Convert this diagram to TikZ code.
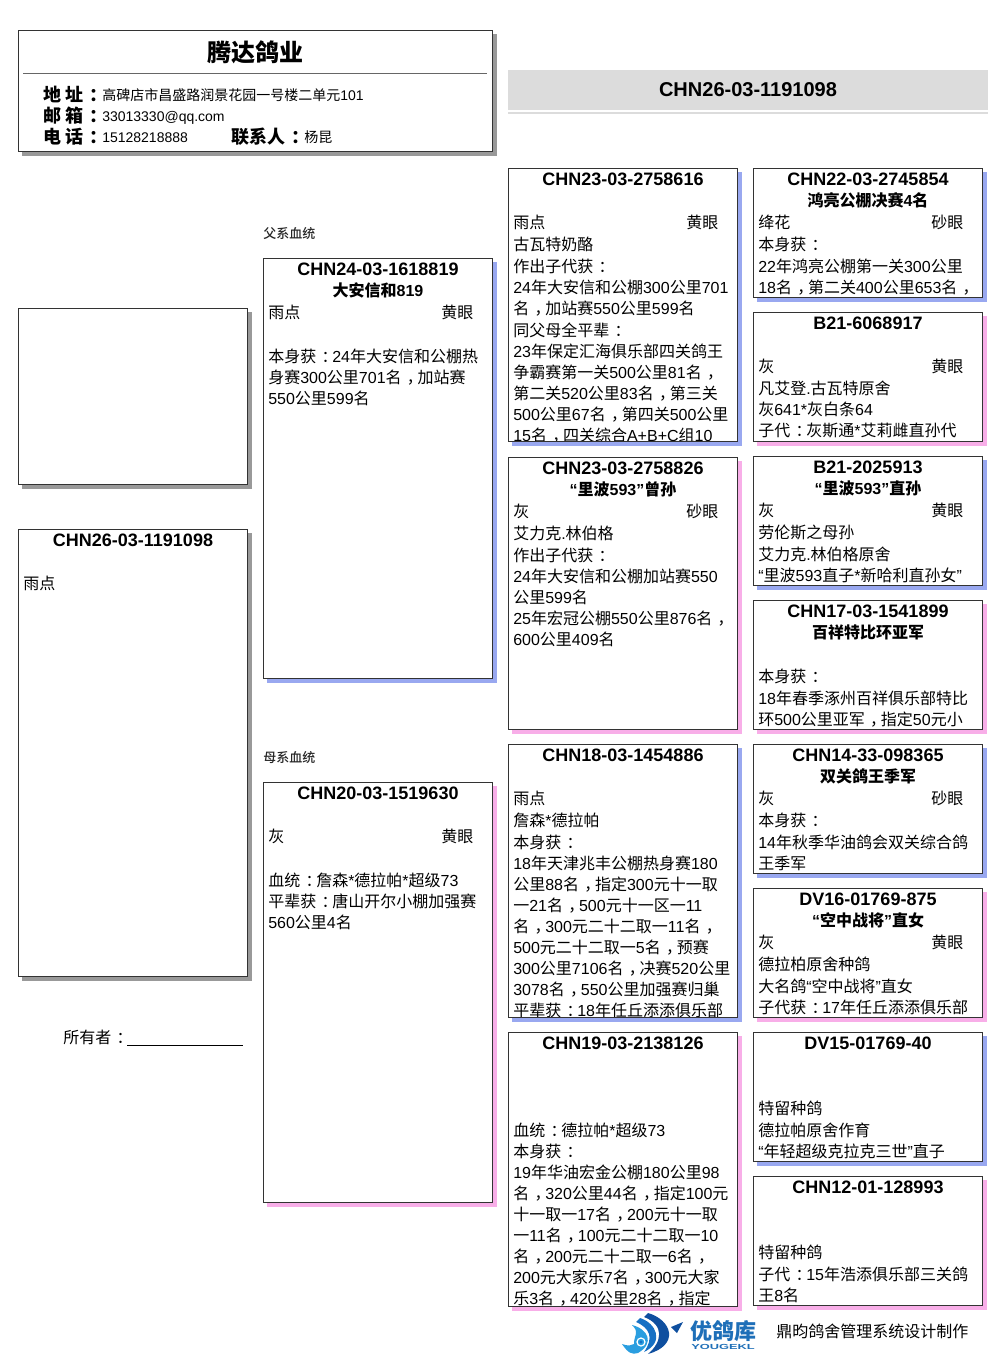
\documentclass[tikz,border=0pt]{standalone}
\usepackage{fontspec}
\setmainfont{Liberation Sans}
\newfontfamily\cjk[BoldFont={Noto Sans CJK SC Medium}]{Noto Sans CJK SC}
\newfontfamily\cjkheavy{Noto Sans CJK SC}
\newfontfamily\ybrand{DejaVu Sans}
\def\cjksel{\cjk}
\XeTeXinterchartokenstate=1
\newXeTeXintercharclass\cjkclass
\newcount\cc
\cc="4E00 \loop \XeTeXcharclass\cc=\cjkclass \advance\cc 1 \ifnum\cc<"A000 \repeat
\cc="3000 \loop \XeTeXcharclass\cc=\cjkclass \advance\cc 1 \ifnum\cc<"3040 \repeat
\cc="FF00 \loop \XeTeXcharclass\cc=\cjkclass \advance\cc 1 \ifnum\cc<"FFF0 \repeat
\XeTeXcharclass"201C=0 \XeTeXcharclass"201D=0 \XeTeXcharclass"2018=0 \XeTeXcharclass"2019=0
\XeTeXinterchartoks 0 \cjkclass={\cjksel}
\XeTeXinterchartoks 4095 \cjkclass={\cjksel}
\XeTeXinterchartoks \cjkclass 0={\rmfamily}
\XeTeXinterchartoks 4095 0={\rmfamily}
\newcommand\midpunct[1]{\cjksel\kern.33em\char"#1\relax\kern-.33em}
\catcode"FF0C=\active \def，{\midpunct{FF0C}}
\catcode"FF1A=\active \def：{\midpunct{FF1A}}
\definecolor{shgray}{HTML}{999999}
\definecolor{shblue}{HTML}{99A8F0}
\definecolor{shpink}{HTML}{F8AEE8}
\definecolor{bandgray}{HTML}{DCDCDC}
\definecolor{edge}{HTML}{333333}
\definecolor{logoA}{HTML}{0F4F9F}
\definecolor{logoB}{HTML}{1670C4}
\definecolor{logoC}{HTML}{2A9EE0}
\definecolor{brandblue}{HTML}{1E6FB8}
\tikzset{
  x=0.75pt,y=-0.75pt,
  paper/.style={draw=edge,fill=white,line width=0.75pt,inner sep=0,outer sep=0,anchor=north west},
  bodytext/.style={font=\fontsize{12}{15.75}\selectfont,align=left,inner sep=0,anchor=north west},
  titletext/.style={font=\fontsize{13.5}{15.75}\selectfont\bfseries,align=center,inner sep=0,anchor=north},
  label/.style={inner sep=0,anchor=base west},
  headkey/.style={label,font=\def\cjksel{\cjkheavy}\fontsize{13.5}{15}\selectfont\bfseries},
  headval/.style={label,font=\fontsize{10.5}{12}\selectfont},
}
\newcommand\QQ{\\[0.75pt]}
\newcommand\Estr{\rule{0pt}{11pt}}
\newcommand\TT[1]{\def\cjksel{\cjkheavy}\fontsize{12}{15.75}\selectfont #1}
% name, x, y, w, h, shadow colour, title, eye, body
\newcommand\pbox[9]{%
  \fill[#6] (#2+4,#3+4) rectangle (#2+#4+5,#3+#5+5);
  \node[paper,minimum width=#4*0.75pt,minimum height=#5*0.75pt] (#1) at (#2+.5,#3+.5) {};
  \begin{scope}
    \clip (#2+.5,#3+.5) rectangle (#2+#4+.5,#3+#5+.5);
    \node[titletext] (#1-title) at (#2+#4/2+.5,#3+2.8) {\Estr#7};
    \node[bodytext] (#1-eye) at (#2+178,#3+45.3) {\Estr#8};
    \node[bodytext] (#1-body) at (#2+5,#3+45.3) {\Estr#9};
  \end{scope}
  \draw[edge,line width=0.75pt] (#2+.5,#3+.5) rectangle (#2+#4+.5,#3+#5+.5);
}
\begin{document}
\begin{tikzpicture}
\useasboundingbox (0,0) rectangle (1006,1366);
\fill[white] (0,0) rectangle (1006,1366);

% shop header
\fill[shgray] (22,34) rectangle (497,156);
\node[paper,minimum width=474*0.75pt,minimum height=121*0.75pt] (shop) at (18.5,30.5) {};
\node[inner sep=0,font=\def\cjksel{\cjkheavy}\fontsize{18}{20}\selectfont\bfseries] (shopname) at (255,52) {腾达鸽业};
\coordinate (ruleL) at (23,74);
\coordinate (ruleR) at (487,74);
\draw[black!60,line width=0.75pt] (ruleL) -- (ruleR);
\node[headkey] (k1) at (43,101.5) {地 址：};
\node[headval] (v1) at (102,101) {高碑店市昌盛路润景花园一号楼二单元101};
\node[headkey] (k2) at (43,122.5) {邮 箱：};
\node[headval] (v2) at (102,122) {33013330@qq.com};
\node[headkey] (k3) at (43,143.5) {电 话：};
\node[headval] (v3) at (102,143) {15128218888};
\node[headkey] (k4) at (231,143.5) {联系人：};
\node[headval] (v4) at (304,143) {杨昆};

% ring band
\fill[bandgray] (508,70) rectangle (988,110);
\fill[bandgray] (508,112) rectangle (988,114);
\node[inner sep=0,font=\fontsize{15}{18}\selectfont\bfseries] (ring) at (748,90) {CHN26-03-1191098};

% section labels
\node[label,font=\fontsize{9.75}{12}\selectfont\bfseries,text=black!85] (sire) at (263,238) {父系血统};
\node[label,font=\fontsize{9.75}{12}\selectfont\bfseries,text=black!85] (dam) at (263,762) {母系血统};

% left column
\fill[shgray] (22,312) rectangle (252,489);
\node[paper,minimum width=229*0.75pt,minimum height=176*0.75pt] (photo) at (18.5,308.5) {};
\pbox{bird}{18}{529}{229}{447}{shgray}{CHN26-03-1191098}{}{雨点}
\node[label,font=\fontsize{12}{15}\selectfont] (owner) at (63,1043) {所有者：};
\coordinate (ownerA) at (127,1045);
\coordinate (ownerB) at (243,1045);
\draw[black,line width=0.75pt] (ownerA) -- (ownerB);

% parents
\pbox{p1}{263}{258}{229}{420}{shblue}{CHN24-03-1618819\\\TT{大安信和819}}{黄眼}{雨点\QQ
\mbox{}\QQ
本身获：24年大安信和公棚热\\
身赛300公里701名，加站赛\\
550公里599名}
\pbox{p2}{263}{782}{229}{420}{shpink}{CHN20-03-1519630}{黄眼}{灰\QQ
\mbox{}\QQ
血统：詹森*德拉帕*超级73\\
平辈获：唐山开尔小棚加强赛\\
560公里4名}

% grandparents
\pbox{g1}{508}{168}{229}{273}{shblue}{CHN23-03-2758616}{黄眼}{雨点\QQ
古瓦特奶酪\QQ
作出子代获：\\
24年大安信和公棚300公里701\\
名，加站赛550公里599名\QQ
同父母全平辈：\\
23年保定汇海俱乐部四关鸽王\\
争霸赛第一关500公里81名，\\
第二关520公里83名，第三关\\
500公里67名，第四关500公里\\
15名，四关综合A+B+C组10}
\pbox{g2}{508}{457}{229}{272}{shpink}{CHN23-03-2758826\\\TT{“里波593”曾孙}}{砂眼}{灰\QQ
艾力克.林伯格\QQ
作出子代获：\\
24年大安信和公棚加站赛550\\
公里599名\\
25年宏冠公棚550公里876名，\\
600公里409名}
\pbox{g3}{508}{744}{229}{273}{shblue}{CHN18-03-1454886}{}{雨点\QQ
詹森*德拉帕\QQ
本身获：\\
18年天津兆丰公棚热身赛180\\
公里88名，指定300元十一取\\
一21名，500元十一区一11\\
名，300元二十二取一11名，\\
500元二十二取一5名，预赛\\
300公里7106名，决赛520公里\\
3078名，550公里加强赛归巢\\
平辈获：18年任丘添添俱乐部}
\pbox{g4}{508}{1032}{229}{274}{shpink}{CHN19-03-2138126}{}{\mbox{}\QQ
\mbox{}\QQ
血统：德拉帕*超级73\\
本身获：\\
19年华油宏金公棚180公里98\\
名，320公里44名，指定100元\\
十一取一17名，200元十一取\\
一11名，100元二十二取一10\\
名，200元二十二取一6名，\\
200元大家乐7名，300元大家\\
乐3名，420公里28名，指定}

% great-grandparents
\pbox{h1}{753}{168}{229}{129}{shblue}{CHN22-03-2745854\\\TT{鸿亮公棚决赛4名}}{砂眼}{绛花\QQ
本身获：\QQ
22年鸿亮公棚第一关300公里\\
18名，第二关400公里653名，}
\pbox{h2}{753}{312}{229}{129}{shpink}{B21-6068917}{黄眼}{灰\QQ
凡艾登.古瓦特原舍\\
灰641*灰白条64\\
子代：灰斯通*艾莉雌直孙代}
\pbox{h3}{753}{456}{229}{129}{shblue}{B21-2025913\\\TT{“里波593”直孙}}{黄眼}{灰\QQ
劳伦斯之母孙\QQ
艾力克.林伯格原舍\\
“里波593直子*新哈利直孙女”}
\pbox{h4}{753}{600}{229}{129}{shpink}{CHN17-03-1541899\\\TT{百祥特比环亚军}}{}{\mbox{}\QQ
本身获：\QQ
18年春季涿州百祥俱乐部特比\\
环500公里亚军，指定50元小}
\pbox{h5}{753}{744}{229}{129}{shblue}{CHN14-33-098365\\\TT{双关鸽王季军}}{砂眼}{灰\QQ
本身获：\QQ
14年秋季华油鸽会双关综合鸽\\
王季军}
\pbox{h6}{753}{888}{229}{129}{shpink}{DV16-01769-875\\\TT{“空中战将”直女}}{黄眼}{灰\QQ
德拉柏原舍种鸽\QQ
大名鸽“空中战将”直女\\
子代获：17年任丘添添俱乐部}
\pbox{h7}{753}{1032}{229}{129}{shblue}{DV15-01769-40}{}{\mbox{}\QQ
特留种鸽\QQ
德拉帕原舍作育\\
“年轻超级克拉克三世”直子}
\pbox{h8}{753}{1176}{229}{129}{shpink}{CHN12-01-128993}{}{\mbox{}\QQ
特留种鸽\QQ
子代：15年浩添俱乐部三关鸽\\
王8名}

% logo
\fill[logoA] (648,1313) .. controls (672,1320) and (680,1345) .. (648,1354) .. controls (662,1342) and (665,1325) .. (644,1317) -- cycle;
\fill[logoB] (640,1318) .. controls (656,1323) and (665,1342) .. (644,1352) .. controls (654,1338) and (650,1328) .. (636,1322) -- cycle;
\fill[logoC] (632,1325) .. controls (648,1329) and (655,1343) .. (638,1353) .. controls (632,1355) and (628,1353) .. (622,1344) .. controls (628,1346) and (631,1346) .. (634,1344) .. controls (634,1334) and (640,1333) .. (632,1325) -- cycle;
\draw[white,line width=0.9pt] (641,1342) circle (4);
\fill[logoB] (641,1342) circle (1.6);
\fill[logoA] (671,1327) -- (683,1322) -- (677,1333) -- cycle;
\node[inner sep=0,text=brandblue,font=\def\cjksel{\cjkheavy}\fontsize{16.5}{18}\selectfont\bfseries] (brand) at (723.5,1331) {优鸽库};
\node[inner sep=0,text=brandblue,xscale=1.75,font=\fontsize{5.5}{7}\selectfont\ybrand\bfseries] (brandlatin) at (723,1347) {YOUGEKL};
\node[label,font=\fontsize{12}{15}\selectfont] (maker) at (776,1337) {鼎昀鸽舍管理系统设计制作};
\end{tikzpicture}
\end{document}
